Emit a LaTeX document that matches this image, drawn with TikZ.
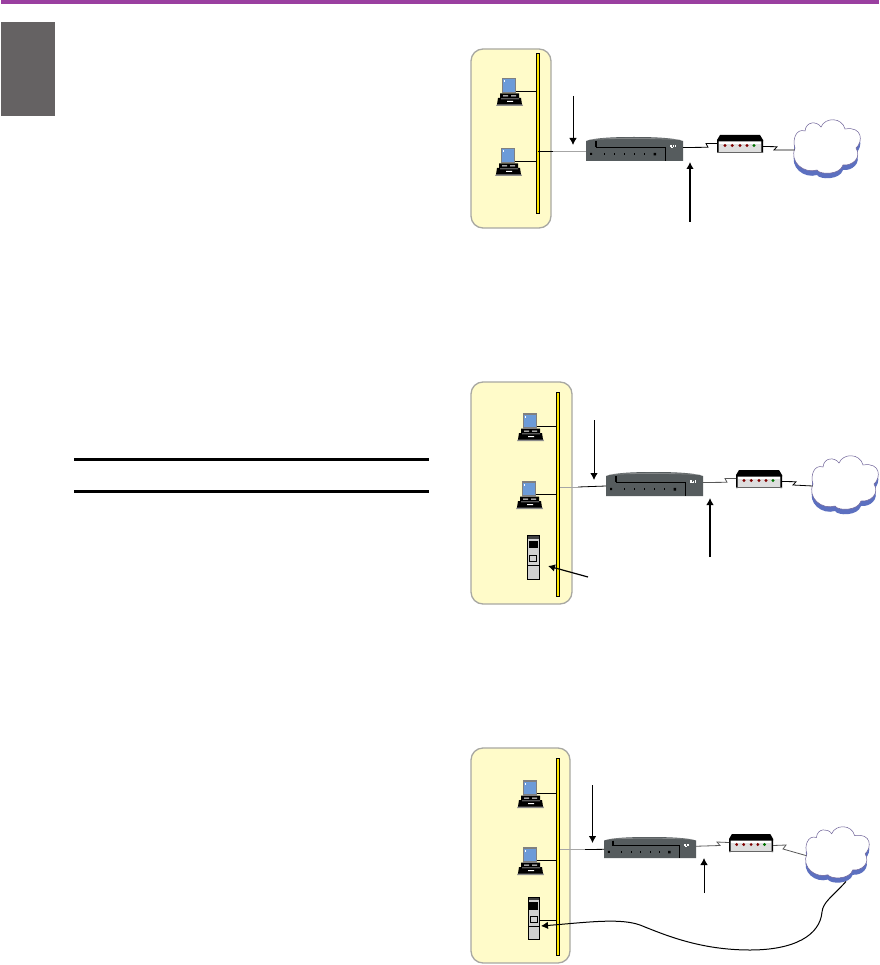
\documentclass[tikz,border=0pt]{standalone}
\usetikzlibrary{arrows.meta,calc}
\definecolor{hdr}{HTML}{9A3FA0}
\definecolor{tabc}{HTML}{656263}
\definecolor{panelf}{HTML}{FFFBC9}
\definecolor{panell}{HTML}{A8A8A2}
\definecolor{busy}{HTML}{FFE800}
\definecolor{scr}{HTML}{6C9BD8}
\definecolor{rout}{HTML}{565C5E}
\definecolor{cloudl}{HTML}{6E6298}
\definecolor{cloudb}{HTML}{5C70C0}
\newcommand{\cloudoutline}{(3,28) .. controls (0,20) and (4,8) .. (13,11)
   .. controls (14,1) and (25,1) .. (29,7)
   .. controls (33,-3) and (50,-3) .. (53,9)
   .. controls (71,6) and (71,22) .. (64,28)
   .. controls (70,38) and (60,46) .. (51,45)
   .. controls (48,55) and (28,55) .. (25,50)
   .. controls (12,54) and (-3,42) .. cycle}
\tikzset{
 x=1pt,y=-1pt,
 panel/.style={fill=panelf,draw=panell,line width=1.3pt,rounded corners=12pt},
 busbar/.style={fill=busy,draw=black,line width=0.8pt},
 link/.style={line width=0.8pt,black},
 graylink/.style={line width=0.9pt,draw=black!35},
 midlink/.style={line width=0.8pt,draw=black!65},
 arrowd/.style={line width=0.9pt,-{Latex[length=7pt,width=7.5pt]}},
 rule/.style={line width=3pt,black},
 pics/pcunit/.style={code={
  \fill[black!45] (-12,18) -- (13,18) -- (14,20) -- (-13,20) -- cycle;
  \fill[black] (-9,7.5) -- (10,7.5) -- (10,12) -- (12,12) -- (13,18.5) -- (-12,18.5) -- (-11,12) -- (-9,12) -- cycle;
  \fill[white] (-6,9.5) rectangle (-1,10.5) (2,9.5) rectangle (7,10.5) (-8,12.6) rectangle (10,13.2) (-2,15) rectangle (4,16);
  \fill[black!50] (-7,-8) rectangle (7,7.5);
  \fill[scr] (-5.8,-6.5) rectangle (5.8,5.8);
  \fill[white] (-5.2,-5.5) rectangle (-4.6,-3.5);
  \coordinate (-e) at (7,5);
 }},
 pics/routerunit/.style={code={
  \fill[rout] (0,4) .. controls (8,1) and (25,0) .. (48,0) .. controls (70,0) and (88,1) .. (97,4) -- (97,24) -- (0,24) -- cycle;
  \fill[black!30,opacity=.5] (3,2.4) .. controls (20,0.5) and (70,0.5) .. (94,2.4) -- (94,3) .. controls (70,1.5) and (20,1.5) .. (3,3) -- cycle;
  \draw[black,line width=0.7pt] (10,4) -- (10,10) -- (79,10) -- (79,24);
  \draw[black,line width=1.6pt] (9.6,4) -- (9.6,10);
  \fill[black] (4,15.8) rectangle (6.2,18) (67.5,15.8) rectangle (70,18.5);
  \foreach \q in {18,28,38,48,58} {\fill[black] (\q,15.8) rectangle (\q+1.2,18.2);}
  \draw[white,line width=0.5pt] (84,8) -- (84,10.5) (85.5,8) -- (85.5,10.5) -- (87,10.5) (87.5,8.5) -- (87.5,10.5) (89,8) -- (89,10.5);
  \coordinate (-w) at (0,14);
  \coordinate (-e) at (97,10.5);
 }},
 pics/modemunit/.style={code={
  \fill[black!13] (0,5) rectangle (46,17.5);
  \fill[white] (2,6) rectangle (44,9);
  \fill[black] (3,0) -- (43,0) -- (46,5) -- (46,6.5) -- (0,6.5) -- (0,5) -- cycle;
  \fill[black] (0,5) rectangle (1.6,18) (44.4,5) rectangle (46,18);
  \fill[black!60] (0,17) rectangle (46,18);
  \foreach \q in {8,15.3,23,30} {\fill[red!50!black] (\q,10.5) circle (1.6);}
  \fill[green!45!black] (37,10.5) circle (1.6);
  \coordinate (-w) at (0,8.5);
  \coordinate (-e) at (46,11.5);
 }},
 pics/serverunit/.style={code={
  \fill[black!18] (0,0) rectangle (12,44);
  \fill[black!75] (0,0) rectangle (12,3.5);
  \fill[black] (1.5,5.5) rectangle (10.7,13.2);
  \draw[black,line width=0.7pt] (2.5,20) rectangle (9.5,26.5);
  \draw[black,line width=0.6pt] (0,30.5) -- (12,30.5);
  \draw[black,line width=0.8pt] (0,0) rectangle (12,44);
  \coordinate (-e) at (12,24);
 }},
 pics/cloudunit/.style={code={
  \fill[cloudb] [yshift=-5pt] \cloudoutline;
  \fill[white,draw=cloudl,line width=0.5pt] \cloudoutline;
  \coordinate (-w) at (2.5,30);
  \coordinate (-s) at (44,57);
 }},
}
\begin{document}
\begin{tikzpicture}
\useasboundingbox (0,0) rectangle (879,965);
\fill[white] (0,0) rectangle (879,965);
% page furniture
\fill[hdr] (1,0) rectangle (879,4);
\fill[tabc] (1,22) rectangle (55,116);
\coordinate (r1a) at (74,459); \coordinate (r1b) at (429,459);
\coordinate (r2a) at (74,491); \coordinate (r2b) at (429,491);
\draw[rule] (r1a) -- (r1b);
\draw[rule] (r2a) -- (r2b);

% ---------- scene 1
\draw[panel] (471,49) rectangle (551,228);
\pic (p11) at (509,86) {pcunit};
\pic (p12) at (508,156) {pcunit};
\coordinate (b1t) at (537.5,53); \coordinate (b1b) at (537.5,213);
\draw[link] (p11-e) -- (p11-e -| b1t);
\draw[link] (p12-e) -- (p12-e -| b1t);
\draw[busbar,line width=0.9pt] (536.3,53) rectangle (539,213);
\pic (r1) at (586,137) {routerunit};
\pic (m1) at (717,135) {modemunit};
\pic (c1) at (792,120) {cloudunit};
\coordinate (j1) at (553,151);
\draw[graylink] (j1) -- (r1-w);
\draw[link] (j1 -| b1t) -- (j1);
\draw[link] (r1-e) -- (708,147.3) -- (706,143.5) -- (m1-w);
\draw[link] (m1-e) -- (777,146.7) -- (774,150) -- (c1-w);
\coordinate (a11) at (573,96); \coordinate (a12) at (573,145);
\coordinate (a13) at (690,222); \coordinate (a14) at (690,162);
\draw[arrowd] (a11) -- (a12);
\draw[arrowd,line width=1.2pt] (a13) -- (a14);

% ---------- scene 2
\draw[panel] (471,382) rectangle (572,604);
\pic (p21) at (530,421) {pcunit};
\pic (p22) at (529,489) {pcunit};
\pic (s2) at (527,535) {serverunit};
\coordinate (b2t) at (558,392);
\draw[link] (p21-e) -- (p21-e -| b2t);
\draw[link] (p22-e) -- (p22-e -| b2t);
\draw[link] (s2-e) ++(0,-.5) -- ($(s2-e)+(0,-.5)$ -| b2t);
\draw[busbar,line width=0.6pt] (556.5,392) rectangle (559.5,596);
\pic (r2) at (606,472) {routerunit};
\pic (m2) at (736,470) {modemunit};
\pic (c2) at (810,456) {cloudunit};
\coordinate (j2) at (560,487);
\coordinate (j2b) at (578,487);
\draw[graylink] (j2) -- (j2b);
\draw[link] (j2b) -- (r2-w);
\draw[midlink] (r2-e) -- (727,482.3) -- (725,478.5) -- (m2-w);
\draw[link] (m2-e) -- (796,481.7) -- (793,485) -- (c2-w);
\coordinate (a21) at (594,420); \coordinate (a22) at (594,480);
\coordinate (a23) at (710,557); \coordinate (a24) at (710,498);
\coordinate (a25) at (588,577); \coordinate (a26) at (548,566);
\draw[arrowd] (a21) -- (a22);
\draw[arrowd,line width=1.2pt] (a23) -- (a24);
\draw[arrowd,line width=1.2pt] (a25) -- (a26);

% ---------- scene 3
\draw[panel] (471,748) rectangle (570,963);
\pic (p31) at (530,788) {pcunit};
\pic (p32) at (530,855) {pcunit};
\pic[xscale=0.95,yscale=0.96] (s3) at (528,897) {serverunit};
\coordinate (b3t) at (557.5,758);
\draw[link] (p31-e) -- (p31-e -| b3t);
\draw[link] (p32-e) -- (p32-e -| b3t);
\coordinate (s3link) at (539.5,920);
\draw[link] (s3link) -- (s3link -| b3t);
\draw[busbar] (556.2,758) rectangle (559,955);
\pic[xscale=0.95,yscale=0.88] (r3) at (604,837) {routerunit};
\pic[xscale=0.96,yscale=1] (m3) at (729,834) {modemunit};
\pic[xscale=0.955,yscale=0.955] (c3) at (804,827) {cloudunit};
\coordinate (j3) at (560,849.5);
\coordinate (j3b) at (585,849.5);
\draw[graylink] (j3) -- (j3b);
\draw[link] (j3b) -- (r3-w);
\draw[midlink] (r3-e) -- (720,845.5) -- (717,842) -- (m3-w);
\draw[midlink] (m3-e) -- (786,845) -- (783,849) -- (c3-w);
\coordinate (a31) at (592.5,785); \coordinate (a32) at (592.5,843);
\coordinate (a33) at (704,893); \coordinate (a34) at (704,858);
\draw[arrowd] (a31) -- (a32);
\draw[arrowd] (a33) -- (a34);
\coordinate (sv3) at (541,926);
\draw[arrowd,line width=1pt] (c3-s) .. controls (832,897) and (823,902) .. (822,912)
  .. controls (820,935) and (795,950) .. (750,950)
  .. controls (700,950) and (665,935) .. (640,925)
  .. controls (620,918) and (590,922) .. (sv3);
\end{tikzpicture}
\end{document}
